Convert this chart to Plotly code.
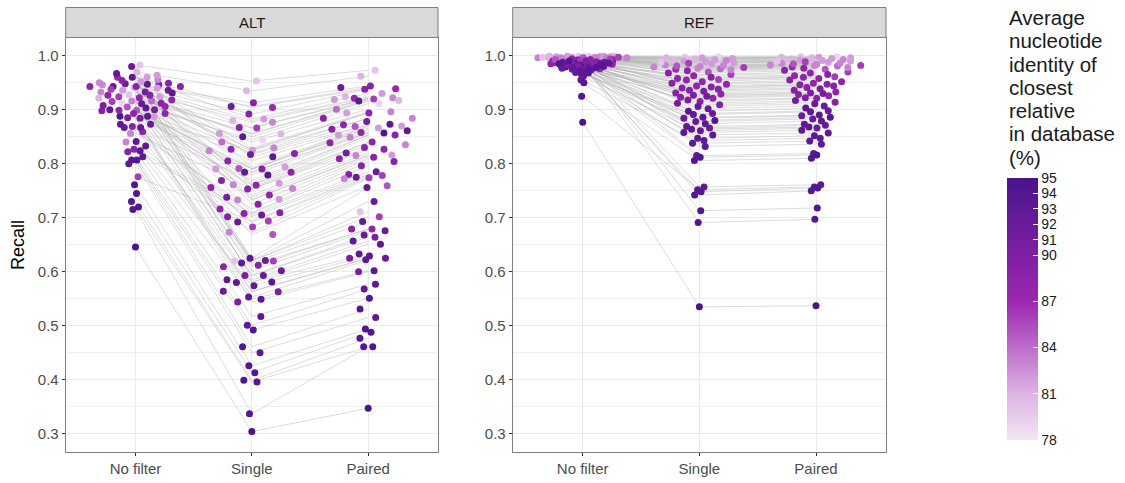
import numpy as np
import plotly.graph_objects as go

# ---------------------------------------------------------------------------
# Data: one entry per genome (same order in every list)
# ---------------------------------------------------------------------------
categories = ["No filter", "Single", "Paired"]
panels = ["ALT", "REF"]

ani = [80, 81, 89, 92, 87, 89, 82, 81, 83, 88, 86, 82, 81, 93, 79, 84, 83, 88, 82, 83,
       89, 91, 93, 88, 82, 85, 82, 89, 93, 88, 94, 89, 82, 83, 88, 88, 83, 89, 88, 91,
       82, 83, 89, 88, 89, 89, 92, 89, 86, 92, 86, 83, 85, 93, 92, 86, 80, 93, 89, 88,
       92, 92, 90, 93, 93, 93, 93, 92, 90, 93, 93, 90, 93, 93, 94, 94, 93, 94, 94, 94,
       94, 94, 95]

alt_nofilter = [0.983, 0.970, 0.946, 0.948, 0.960, 0.943, 0.960, 0.941, 0.933, 0.943,
                0.924, 0.924, 0.921, 0.931, 0.912, 0.916, 0.956, 0.922, 0.887, 0.946,
                0.912, 0.933, 0.947, 0.906, 0.964, 0.899, 0.936, 0.898, 0.903, 0.893,
                0.888, 0.869, 0.940, 0.950, 0.893, 0.899, 0.856, 0.943, 0.927, 0.900,
                0.952, 0.916, 0.949, 0.859, 0.927, 0.827, 0.873, 0.822, 0.776, 0.867,
                0.915, 0.840, 0.905, 0.943, 0.980, 0.938, 0.928, 0.967, 0.954, 0.918,
                0.936, 0.911, 0.908, 0.960, 0.900, 0.873, 0.841, 0.867, 0.884, 0.888,
                0.833, 0.885, 0.824, 0.813, 0.807, 0.807, 0.800, 0.761, 0.745, 0.730,
                0.720, 0.715, 0.646]

alt_single = [0.953, 0.935, 0.913, 0.906, 0.904, 0.892, 0.883, 0.880, 0.877, 0.867,
              0.866, 0.856, 0.855, 0.850, 0.844, 0.840, 0.829, 0.827, 0.825, 0.824,
              0.819, 0.817, 0.813, 0.805, 0.794, 0.791, 0.790, 0.790, 0.784, 0.784,
              0.779, 0.769, 0.764, 0.761, 0.760, 0.756, 0.754, 0.753, 0.742, 0.738,
              0.734, 0.733, 0.725, 0.716, 0.709, 0.708, 0.705, 0.702, 0.694, 0.692,
              0.683, 0.673, 0.669, 0.625, 0.621, 0.620, 0.620, 0.616, 0.612, 0.609,
              0.602, 0.593, 0.593, 0.585, 0.581, 0.580, 0.574, 0.564, 0.563, 0.553,
              0.549, 0.544, 0.517, 0.501, 0.492, 0.461, 0.450, 0.426, 0.413, 0.399,
              0.396, 0.337, 0.304]

alt_paired = [0.973, 0.962, 0.944, 0.941, 0.939, 0.938, 0.930, 0.924, 0.922, 0.921,
              0.920, 0.919, 0.917, 0.916, 0.911, 0.901, 0.896, 0.894, 0.894, 0.884,
              0.884, 0.878, 0.873, 0.872, 0.870, 0.869, 0.866, 0.864, 0.861, 0.858,
              0.857, 0.853, 0.853, 0.849, 0.840, 0.839, 0.835, 0.830, 0.827, 0.820,
              0.816, 0.815, 0.812, 0.809, 0.804, 0.796, 0.785, 0.780, 0.778, 0.775,
              0.774, 0.772, 0.759, 0.756, 0.730, 0.702, 0.711, 0.693, 0.679, 0.679,
              0.676, 0.668, 0.664, 0.657, 0.651, 0.633, 0.629, 0.625, 0.625, 0.622,
              0.602, 0.600, 0.577, 0.568, 0.551, 0.531, 0.515, 0.494, 0.488, 0.477,
              0.461, 0.461, 0.347]

ref_nofilter = [0.999, 0.998, 0.992, 0.990, 0.995, 0.985, 0.997, 0.999, 0.996, 0.988,
                0.991, 0.998, 0.999, 0.979, 0.999, 0.995, 0.997, 0.982, 0.998, 0.996,
                0.993, 0.983, 0.985, 0.984, 0.998, 0.996, 0.997, 0.979, 0.966, 0.987,
                0.976, 0.981, 0.999, 0.996, 0.991, 0.976, 0.998, 0.989, 0.994, 0.975,
                0.999, 0.996, 0.986, 0.990, 0.983, 0.992, 0.969, 0.978, 0.989, 0.986,
                0.994, 0.994, 0.993, 0.983, 0.981, 0.997, 0.997, 0.968, 0.988, 0.993,
                0.974, 0.988, 0.980, 0.978, 0.962, 0.986, 0.972, 0.977, 0.990, 0.980,
                0.955, 0.985, 0.970, 0.985, 0.975, 0.950, 0.988, 0.925, 0.978, 0.982,
                0.990, 0.985, 0.877]

ref_single = [0.997, 0.992, 0.940, 0.902, 0.975, 0.915, 0.985, 0.996, 0.980, 0.947,
              0.965, 0.990, 0.994, 0.897, 0.998, 0.976, 0.983, 0.921, 0.989, 0.979,
              0.938, 0.925, 0.891, 0.952, 0.993, 0.981, 0.987, 0.909, 0.886, 0.944,
              0.880, 0.931, 0.995, 0.977, 0.958, 0.929, 0.991, 0.949, 0.963, 0.912,
              0.996, 0.982, 0.936, 0.955, 0.942, 0.968, 0.878, 0.923, 0.956, 0.866,
              0.986, 0.974, 0.970, 0.874, 0.884, 0.978, 0.988, 0.869, 0.960, 0.972,
              0.893, 0.906, 0.918, 0.864, 0.858, 0.853, 0.847, 0.861, 0.927, 0.843,
              0.838, 0.934, 0.832, 0.815, 0.812, 0.806, 0.757, 0.752, 0.748, 0.742,
              0.713, 0.691, 0.535]

ref_paired = [0.998, 0.994, 0.946, 0.907, 0.979, 0.921, 0.988, 0.997, 0.984, 0.952,
              0.970, 0.992, 0.996, 0.903, 0.998, 0.981, 0.986, 0.926, 0.991, 0.983,
              0.944, 0.930, 0.896, 0.958, 0.995, 0.985, 0.990, 0.914, 0.890, 0.949,
              0.886, 0.936, 0.996, 0.982, 0.963, 0.933, 0.993, 0.955, 0.968, 0.917,
              0.997, 0.986, 0.941, 0.960, 0.947, 0.973, 0.883, 0.928, 0.961, 0.871,
              0.989, 0.978, 0.975, 0.879, 0.889, 0.982, 0.990, 0.873, 0.965, 0.977,
              0.898, 0.911, 0.922, 0.868, 0.862, 0.857, 0.852, 0.866, 0.931, 0.847,
              0.842, 0.939, 0.836, 0.819, 0.816, 0.810, 0.761, 0.757, 0.755, 0.750,
              0.718, 0.697, 0.537]

y_ticks = [0.3, 0.4, 0.5, 0.6, 0.7, 0.8, 0.9, 1.0]
y_minor = [0.35, 0.45, 0.55, 0.65, 0.75, 0.85, 0.95]
colorbar_ticks = [78, 81, 84, 87, 90, 91, 92, 93, 94, 95]

# ---------------------------------------------------------------------------
# Geometry (pixels) of the page
# ---------------------------------------------------------------------------
W, H = 1125, 483
FONT = "Liberation Sans, Arial, Helvetica, sans-serif"
panel_px = {"ALT": (65.7, 438.0), "REF": (512.7, 886.0)}
plot_top, plot_bottom = 38.0, 451.7
y_range = [0.2667, 1.0328]
x_range = [0.4, 3.6]
dot = 7.0
swarm_width = 0.4      # maximum half-width of a swarm, in category units
bw_adjust = 0.5        # kernel bandwidth multiplier


def van_der_corput(n, base=2):
    seq = []
    for i in range(1, n + 1):
        q, denom, k = 0.0, 1.0, i
        while k > 0:
            denom *= base
            k, r = divmod(k, base)
            q += r / denom
        seq.append(q)
    return np.array(seq)


def quasirandom_offsets(values, width=swarm_width, adjust=bw_adjust):
    """Quasirandom horizontal offsets scaled by the kernel density of the values."""
    y = np.asarray(values, dtype=float)
    n = len(y)
    sd = y.std(ddof=1)
    iqr = np.subtract(*np.percentile(y, [75, 25]))
    bw = 0.9 * min(sd, iqr / 1.34 if iqr > 0 else sd) * n ** -0.2 * adjust
    grid = np.linspace(y.min() - 3 * bw, y.max() + 3 * bw, 512)
    dens = np.exp(-0.5 * ((grid[:, None] - y[None, :]) / bw) ** 2).sum(axis=1)
    dens_at = np.interp(y, grid, dens) / dens.max()
    ranks = np.argsort(np.argsort(y, kind="stable"), kind="stable")
    vdc = van_der_corput(n)
    return (vdc[ranks] - 0.5) * 2 * width * dens_at


panel_data = {
    "ALT": [alt_nofilter, alt_single, alt_paired],
    "REF": [ref_nofilter, ref_single, ref_paired],
}

colorscale = [
    [0.000, "#F3E5F5"],
    [0.176, "#DDB4E4"],
    [0.353, "#BD6CCA"],
    [0.529, "#9C27B0"],
    [0.706, "#7E1FA3"],
    [0.824, "#6A1B9A"],
    [1.000, "#4A148C"],
]

fig = go.Figure()

for k, panel in enumerate(panels):
    xa = "x" if k == 0 else "x2"
    ya = "y" if k == 0 else "y2"
    series = panel_data[panel]

    # connecting lines between the three filter settings for each genome
    lx, ly = [], []
    for g in range(len(ani)):
        lx += [1, 2, 3, None]
        ly += [series[0][g], series[1][g], series[2][g], None]
    fig.add_trace(go.Scatter(
        x=lx, y=ly, mode="lines", xaxis=xa, yaxis=ya,
        line=dict(color="rgba(175,175,175,0.42)", width=1),
        hoverinfo="skip", showlegend=False,
    ))

    # dots for each filter setting
    for c, vals in enumerate(series):
        offs = quasirandom_offsets(vals)
        fig.add_trace(go.Scatter(
            x=[c + 1 + o for o in offs], y=vals, mode="markers",
            xaxis=xa, yaxis=ya,
            marker=dict(size=dot, color=ani, coloraxis="coloraxis", line=dict(width=0)),
            showlegend=False,
            hovertemplate=categories[c] + "<br>Recall %{y:.3f}<br>ANI %{marker.color}<extra></extra>",
        ))

axis_common = dict(
    showline=True, mirror=True, linecolor="#7f7f7f", linewidth=1,
    ticks="outside", ticklen=3, tickcolor="#333333", tickwidth=1,
    showgrid=True, gridcolor="#ebebeb", gridwidth=1, zeroline=False,
    tickfont=dict(family=FONT, size=15, color="#4d4d4d"),
)

ydom = [1 - plot_bottom / H, 1 - plot_top / H]
for k, panel in enumerate(panels):
    x0, x1 = panel_px[panel]
    xkey = "xaxis" if k == 0 else "xaxis2"
    ykey = "yaxis" if k == 0 else "yaxis2"
    fig.layout[xkey] = dict(
        axis_common, domain=[x0 / W, x1 / W], range=x_range,
        tickvals=[1, 2, 3], ticktext=categories,
        anchor="y" if k == 0 else "y2",
    )
    fig.layout[ykey] = dict(
        axis_common, domain=ydom, range=y_range,
        tickvals=y_ticks, ticktext=[f"{v:.1f}" for v in y_ticks],
        minor=dict(tickvals=y_minor, showgrid=True, gridcolor="#f0f0f0",
                   gridwidth=0.7, ticks=""),
        anchor="x" if k == 0 else "x2",
    )
    # facet strip
    fig.add_shape(type="rect", xref="paper", yref="paper",
                  x0=x0 / W, x1=x1 / W, y0=1 - 37.5 / H, y1=1 - 7.5 / H,
                  fillcolor="#d9d9d9", line=dict(color="#7f7f7f", width=1))
    fig.add_annotation(text=panel, xref="paper", yref="paper",
                       x=(x0 + x1) / 2 / W, y=1 - 22.5 / H,
                       showarrow=False, xanchor="center", yanchor="middle",
                       font=dict(family=FONT, size=15, color="#1a1a1a"))

# y axis title
fig.add_annotation(text="Recall", xref="paper", yref="paper",
                   x=18 / W, y=1 - 245 / H, textangle=-90,
                   showarrow=False, xanchor="center", yanchor="middle",
                   font=dict(family=FONT, size=18, color="#000000"))

# colour legend title, one line per row
title_lines = ["Average", "nucleotide", "identity of", "closest",
               "relative", "in database", "(%)"]
for i, line in enumerate(title_lines):
    fig.add_annotation(text=line, xref="paper", yref="paper",
                       x=1007 / W, y=1 - (17.5 + 23.3 * i) / H,
                       showarrow=False, xanchor="left", yanchor="middle",
                       font=dict(family=FONT, size=20.5, color="#1a1a1a"))

fig.update_layout(
    width=W, height=H,
    margin=dict(l=0, r=0, t=0, b=0),
    paper_bgcolor="white", plot_bgcolor="white",
    font=dict(family=FONT),
    coloraxis=dict(
        cmin=78, cmax=95, colorscale=colorscale,
        colorbar=dict(
            x=1007 / W, xanchor="left", xpad=0,
            y=1 - 309 / H, yanchor="middle", ypad=0,
            len=262, lenmode="pixels",
            thickness=31, thicknessmode="pixels",
            tickvals=colorbar_ticks, ticktext=[str(v) for v in colorbar_ticks],
            ticks="inside", ticklen=5, tickcolor="white", tickwidth=1,
            tickfont=dict(family=FONT, size=14, color="#1a1a1a"),
            outlinewidth=0, title=dict(text=""),
        ),
    ),
)

fig.write_html("out.html")
